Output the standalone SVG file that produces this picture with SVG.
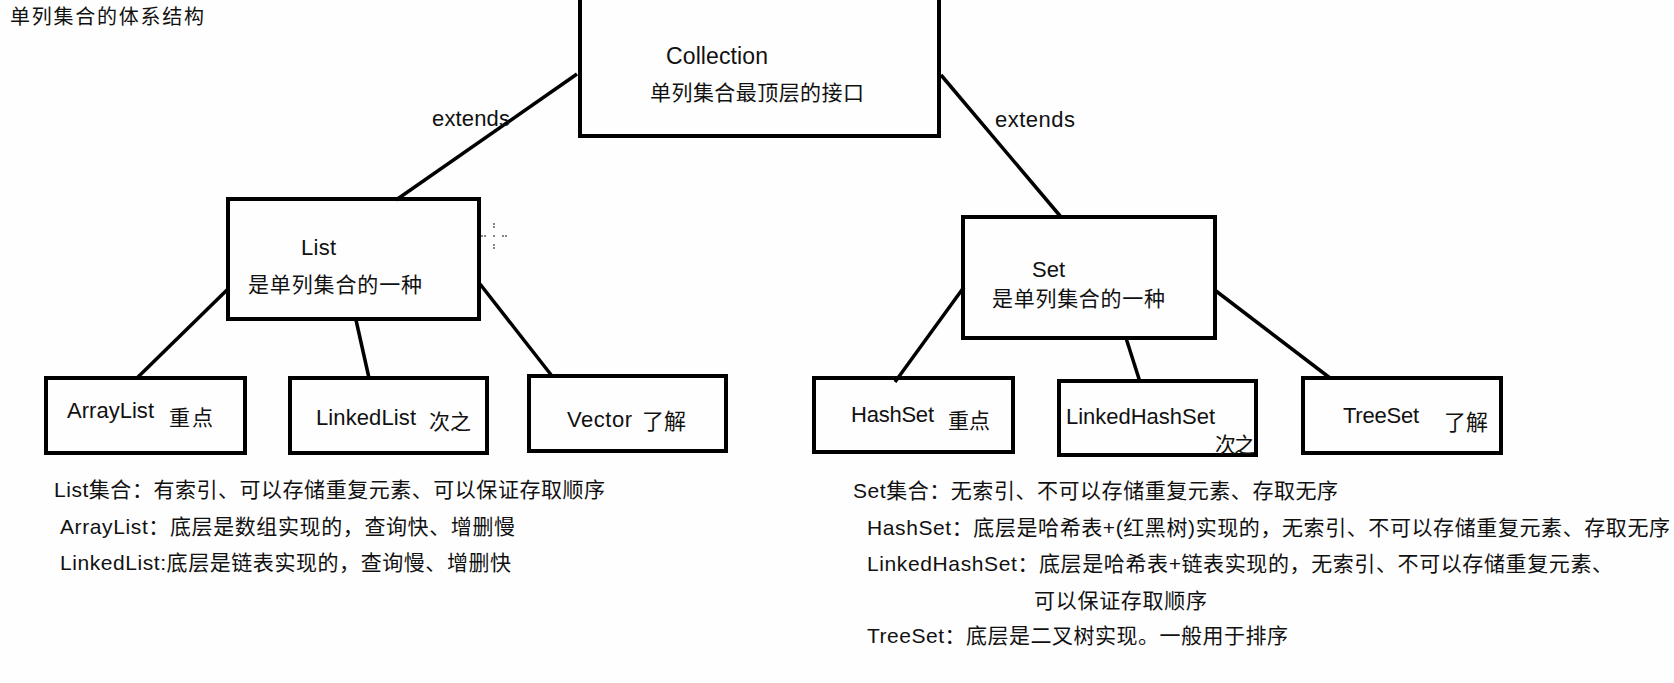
<svg xmlns="http://www.w3.org/2000/svg" width="1674" height="683" viewBox="0 0 1674 683">
<style>
.bg{fill:#fefefe}
.box{fill:none;stroke:#000;stroke-width:4}
.ln{stroke:#000;stroke-width:3.5;stroke-linecap:butt;fill:none}
text{font-family:"Liberation Sans","Noto Sans CJK SC",sans-serif;fill:#111}
.lat{font-size:22px}
.cjk{font-size:21px}
.dot{fill:#888}
</style>
<rect class="bg" x="0" y="0" width="1674" height="683"/>
<text x="10" y="24" style="font-size:20px" textLength="194">单列集合的体系结构</text>

<g id="connectors">
<line class="ln" x1="577" y1="74" x2="396" y2="200"/>
<line class="ln" x1="941" y1="75" x2="1061" y2="217"/>
<line class="ln" x1="229" y1="288" x2="137" y2="378"/>
<line class="ln" x1="356" y1="320" x2="369" y2="378"/>
<line class="ln" x1="480" y1="284" x2="552" y2="376"/>
<line class="ln" x1="964" y1="287" x2="895" y2="382"/>
<line class="ln" x1="1126" y1="338" x2="1140" y2="382"/>
<line class="ln" x1="1216" y1="291" x2="1330" y2="378"/>
<text class="lat" x="432" y="126" textLength="78">extends</text>
<text class="lat" x="995" y="127" textLength="80">extends</text>
</g>

<g id="collection">
<rect class="box" x="580" y="-10" width="359" height="146"/>
<text x="666" y="64" style="font-size:23px" textLength="102">Collection</text>
<text class="cjk" x="650" y="100" textLength="214">单列集合最顶层的接口</text>
</g>

<g id="list">
<rect class="box" x="228" y="199" width="251" height="120"/>
<text class="lat" x="301" y="255" textLength="35">List</text>
<text class="cjk" x="248" y="292" textLength="174">是单列集合的一种</text>
</g>

<g id="artifact">
<rect class="dot" x="493" y="223" width="2" height="2"/>
<rect class="dot" x="493" y="226" width="2" height="2"/>
<rect class="dot" x="493" y="235" width="2" height="2"/>
<rect class="dot" x="493" y="244" width="2" height="2"/>
<rect class="dot" x="493" y="247" width="2" height="2"/>
<rect class="dot" x="481" y="235" width="2" height="2"/>
<rect class="dot" x="484" y="235" width="2" height="2"/>
<rect class="dot" x="502" y="235" width="2" height="2"/>
<rect class="dot" x="505" y="235" width="2" height="2"/>
</g>

<g id="set">
<rect class="box" x="963" y="217" width="252" height="121"/>
<text class="lat" x="1032" y="277" textLength="33">Set</text>
<text class="cjk" x="992" y="306" textLength="173">是单列集合的一种</text>
</g>

<g id="arraylist">
<rect class="box" x="46" y="378" width="199" height="75"/>
<text class="lat" x="67" y="418" textLength="87">ArrayList</text>
<text class="cjk" x="169" y="425" textLength="44">重点</text>
</g>

<g id="linkedlist">
<rect class="box" x="290" y="378" width="197" height="75"/>
<text class="lat" x="316" y="425" textLength="100">LinkedList</text>
<text class="cjk" x="429" y="429" textLength="42">次之</text>
</g>

<g id="vector">
<rect class="box" x="529" y="376" width="197" height="75"/>
<text class="lat" x="567" y="427" textLength="65">Vector</text>
<text x="642" y="429" style="font-size:22px">了解</text>
</g>

<g id="hashset">
<rect class="box" x="814" y="378" width="199" height="74"/>
<text class="lat" x="851" y="422" textLength="83">HashSet</text>
<text class="cjk" x="948" y="428" textLength="42">重点</text>
</g>

<g id="linkedhashset">
<rect class="box" x="1059" y="381" width="197" height="74"/>
<text class="lat" x="1066" y="424" textLength="149">LinkedHashSet</text>
<text class="cjk" x="1215" y="452" textLength="40">次之</text>
</g>

<g id="treeset">
<rect class="box" x="1303" y="378" width="198" height="75"/>
<text class="lat" x="1343" y="423" textLength="76">TreeSet</text>
<text x="1444" y="430" style="font-size:22px">了解</text>
</g>

<g id="list-notes">
<text class="cjk" x="54" y="497" textLength="551">List集合：有索引、可以存储重复元素、可以保证存取顺序</text>
<text class="cjk" x="60" y="534" textLength="455">ArrayList：底层是数组实现的，查询快、增删慢</text>
<text class="cjk" x="60" y="570" textLength="451">LinkedList:底层是链表实现的，查询慢、增删快</text>
</g>

<g id="set-notes">
<text class="cjk" x="853" y="498" textLength="485">Set集合：无索引、不可以存储重复元素、存取无序</text>
<text class="cjk" x="867" y="535" textLength="803">HashSet：底层是哈希表+(红黑树)实现的，无索引、不可以存储重复元素、存取无序</text>
<text class="cjk" x="867" y="571" textLength="746">LinkedHashSet：底层是哈希表+链表实现的，无索引、不可以存储重复元素、</text>
<text class="cjk" x="1034" y="608" textLength="173">可以保证存取顺序</text>
<text class="cjk" x="867" y="643" textLength="421">TreeSet：底层是二叉树实现。一般用于排序</text>
</g>
</svg>
